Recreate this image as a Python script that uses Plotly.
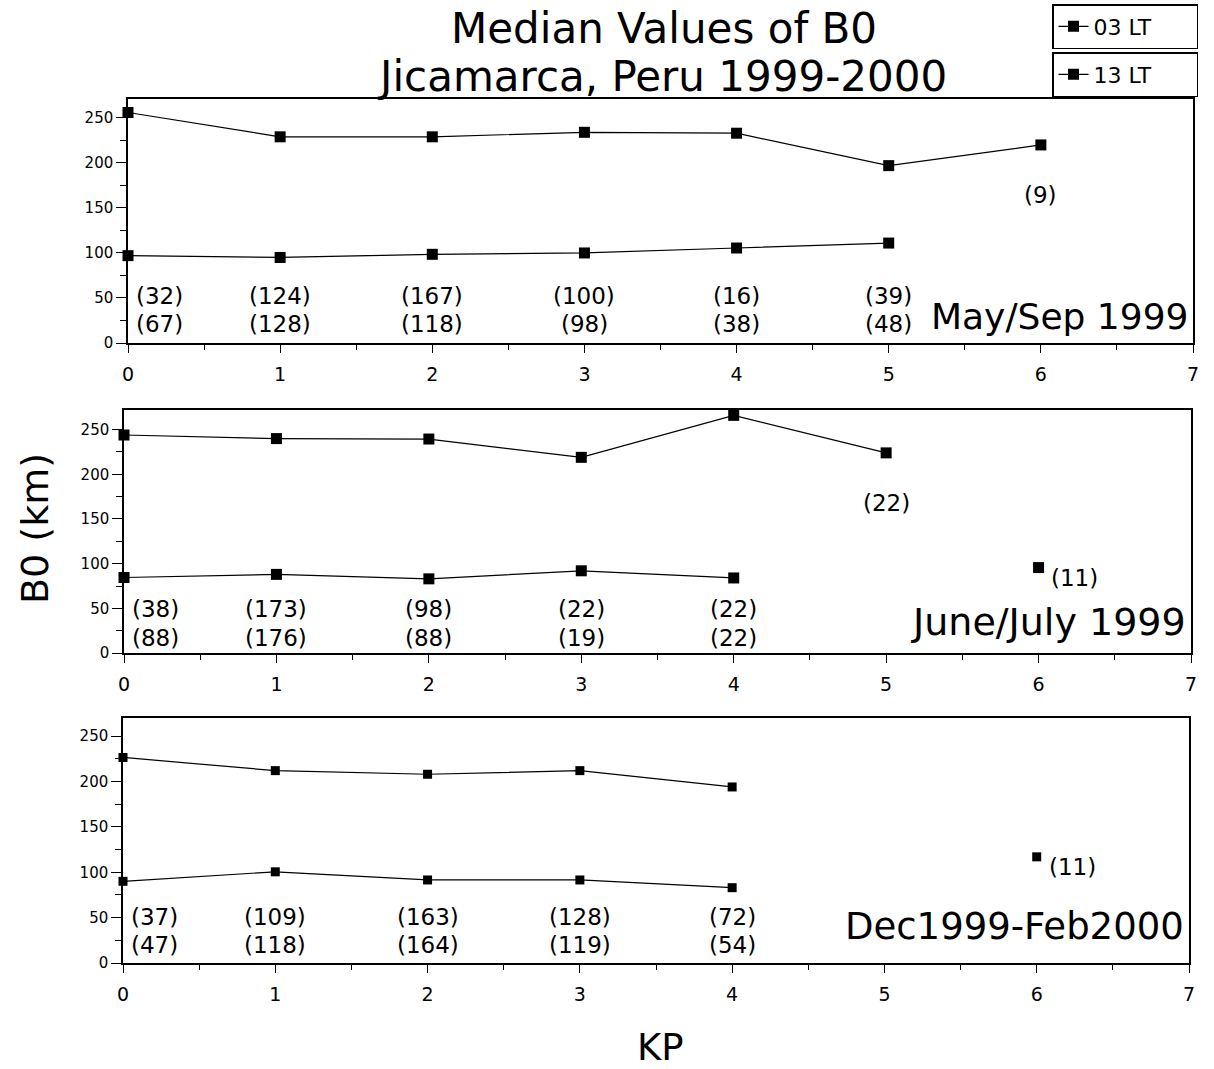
import plotly.graph_objects as go

# ---------------- data ----------------
kp = [0, 1, 2, 3, 4, 5, 6]
kp_ticks = [0, 1, 2, 3, 4, 5, 6, 7]

panel_names = ["May/Sep 1999", "June/July 1999", "Dec1999-Feb2000"]

# Median B0 (km), 13 LT (upper curve) and 03 LT (lower curve)
b0_13lt_maysep = [256, 229, 229, 234, 233, 197, 220]
b0_03lt_maysep = [97, 95, 98.5, 100, 105.5, 111, None]

b0_13lt_junjul = [244, 240, 239.5, 219, 266, 224, None]
b0_03lt_junjul = [84.5, 88, 83, 92, 84, None, 95.6]

b0_13lt_decfeb = [226.5, 212, 208, 212, 194, None, None]
b0_03lt_decfeb = [90, 100.5, 91.5, 91.5, 83, None, 117]

# number of samples per bin
n_13lt_maysep = [32, 124, 167, 100, 16, 39, 9]
n_03lt_maysep = [67, 128, 118, 98, 38, 48, None]

n_13lt_junjul = [38, 173, 98, 22, 22, 22, None]
n_03lt_junjul = [88, 176, 88, 19, 22, None, 11]

n_13lt_decfeb = [37, 109, 163, 128, 72, None, None]
n_03lt_decfeb = [47, 118, 164, 119, 54, None, 11]

upper = [b0_13lt_maysep, b0_13lt_junjul, b0_13lt_decfeb]
lower = [b0_03lt_maysep, b0_03lt_junjul, b0_03lt_decfeb]
n_up = [n_13lt_maysep, n_13lt_junjul, n_13lt_decfeb]
n_lo = [n_03lt_maysep, n_03lt_junjul, n_03lt_decfeb]

# ---------------- layout helpers ----------------
W, H = 1214, 1069
FONT = "DejaVu Sans"
px_x = lambda v: v / W
px_y = lambda v: 1 - v / H

# pixel boxes of the three panels (left, right, top, bottom)
boxes = [(128, 1193, 99, 343), (124, 1191, 410, 653), (123, 1189, 718, 963)]
yranges = [[0, 271], [0, 272], [0, 270]]
msizes = [11, 11, 9]
label_y = [29, 35, 40]
label_size = [36, 38, 37]
row_y = [(52, 21), (49, 17), (51, 20)]

fig = go.Figure()
annotations = []

for i in range(3):
    ax = "" if i == 0 else str(i + 1)
    xa, ya = "x" + ax, "y" + ax
    for series, name, leg in ((lower[i], "03 LT", "legend"), (upper[i], "13 LT", "legend2")):
        fig.add_trace(go.Scatter(
            x=kp, y=series, mode="lines+markers", name=name,
            line=dict(color="black", width=1.2),
            marker=dict(symbol="square", size=msizes[i], color="black"),
            connectgaps=False, cliponaxis=False,
            xaxis=xa, yaxis=ya, legend=leg, showlegend=(i == 0)))

    # sample counts
    for k, nu, nl in zip(kp, n_up[i], n_lo[i]):
        if nu is not None and nl is not None:
            for n, yy in ((nu, row_y[i][0]), (nl, row_y[i][1])):
                annotations.append(dict(
                    x=k, y=yy, xref=xa, yref=ya, text=f"({n})", showarrow=False,
                    xanchor="left" if k == 0 else "center", xshift=6 if k == 0 else 0,
                    font=dict(family=FONT, size=23, color="black")))
        elif nu is not None:
            annotations.append(dict(
                x=k, y=upper[i][k] - 56, xref=xa, yref=ya, text=f"({nu})", showarrow=False,
                xanchor="center", font=dict(family=FONT, size=23, color="black")))
        elif nl is not None:
            annotations.append(dict(
                x=k, y=lower[i][k], xref=xa, yref=ya, text=f"({nl})", showarrow=False,
                xanchor="left", xshift=10, yshift=-10,
                font=dict(family=FONT, size=23, color="black")))

    # panel label
    annotations.append(dict(
        x=0.997, y=label_y[i], xref=xa + " domain", yref=ya, text=panel_names[i],
        showarrow=False, xanchor="right", yanchor="middle",
        font=dict(family=FONT, size=label_size[i], color="black")))

    l, r, t, b = boxes[i]
    axis_common = dict(showline=True, linecolor="black", linewidth=1.5, mirror=True,
                       showgrid=False, zeroline=False, ticks="outside", tickcolor="black",
                       tickwidth=1.3)
    fig.layout["xaxis" + ax] = dict(
        domain=[px_x(l), px_x(r)], range=[0, 7], tickvals=kp_ticks, ticklen=8,
        anchor=ya, ticklabelstandoff=5,
        minor=dict(dtick=0.5, ticklen=5, ticks="outside", tickcolor="black", tickwidth=1.2),
        tickfont=dict(family=FONT, size=19, color="black"), **axis_common)
    fig.layout["yaxis" + ax] = dict(
        domain=[px_y(b), px_y(t)], range=yranges[i], tickvals=[0, 50, 100, 150, 200, 250],
        ticklen=10, anchor=xa,
        minor=dict(dtick=25, ticklen=6, ticks="outside", tickcolor="black", tickwidth=1.2),
        tickfont=dict(family=FONT, size=15, color="black"), **axis_common)

# titles
annotations += [
    dict(x=px_x(664), y=px_y(29), xref="paper", yref="paper", text="Median Values of B0",
         showarrow=False, xanchor="center", yanchor="middle",
         font=dict(family=FONT, size=42, color="black")),
    dict(x=px_x(662), y=px_y(76), xref="paper", yref="paper", text="Jicamarca, Peru 1999-2000",
         showarrow=False, xanchor="center", yanchor="middle",
         font=dict(family=FONT, size=42, color="black")),
    dict(x=px_x(35), y=px_y(529), xref="paper", yref="paper", text="B0 (km)", textangle=-90,
         showarrow=False, xanchor="center", yanchor="middle",
         font=dict(family=FONT, size=38, color="black")),
    dict(x=px_x(660), y=px_y(1047), xref="paper", yref="paper", text="KP",
         showarrow=False, xanchor="center", yanchor="middle",
         font=dict(family=FONT, size=37, color="black")),
]

legend_common = dict(xanchor="left", yanchor="top", bordercolor="black", borderwidth=1.5,
                     bgcolor="white", font=dict(family=FONT, size=22, color="black"),
                     orientation="h", entrywidth=98, itemwidth=30)
fig.update_layout(
    width=W, height=H,
    margin=dict(l=0, r=0, t=0, b=0, autoexpand=False),
    paper_bgcolor="white", plot_bgcolor="white",
    annotations=annotations,
    legend=dict(x=px_x(1052), y=px_y(4), **legend_common),
    legend2=dict(x=px_x(1052), y=px_y(52), **legend_common),
)

fig.write_html("out.html", config={"displayModeBar": False},
               post_script="document.body.style.margin='0px';")
